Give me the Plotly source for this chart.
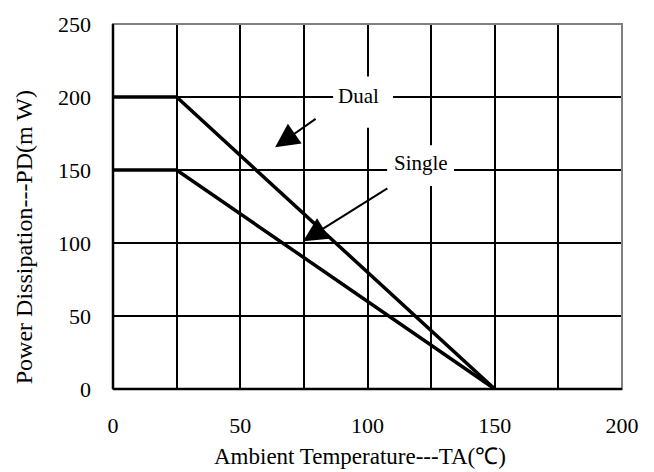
import plotly.graph_objects as go

# data
dual_x = [0, 25, 150]
dual_y = [200, 200, 0]
single_x = [0, 25, 150]
single_y = [150, 150, 0]
x_ticks = [0, 50, 100, 150, 200]
y_ticks = [0, 50, 100, 150, 200, 250]

FONT = "Liberation Serif"

fig = go.Figure()
for xs, ys in [(dual_x, dual_y), (single_x, single_y)]:
    fig.add_trace(go.Scatter(x=xs, y=ys, mode="lines",
                             line=dict(color="black", width=3.5),
                             showlegend=False, hoverinfo="skip"))

# white label boxes over the grid
fig.add_shape(type="rect", x0=86.5, x1=110, y0=179, y1=214, xref="x", yref="y",
              fillcolor="white", line=dict(width=0), layer="between")
fig.add_shape(type="rect", x0=107.7, x1=134, y0=139, y1=167, xref="x", yref="y",
              fillcolor="white", line=dict(width=0), layer="between")

fig.add_annotation(x=96.5, y=201, text="Dual", showarrow=False,
                   font=dict(family=FONT, size=21, color="black"))
fig.add_annotation(x=121, y=155, text="Single", showarrow=False,
                   font=dict(family=FONT, size=21, color="black"))
# arrows
fig.add_annotation(x=63.7, y=165.5, ax=80.2, ay=185.7, axref="x", ayref="y",
                   xref="x", yref="y", text="", showarrow=True,
                   arrowhead=2, arrowsize=2.4, arrowwidth=2, arrowcolor="black")
fig.add_annotation(x=74.7, y=101.2, ax=108.4, ay=138.1, axref="x", ayref="y",
                   xref="x", yref="y", text="", showarrow=True,
                   arrowhead=2, arrowsize=2.4, arrowwidth=2, arrowcolor="black")

# axis titles
fig.add_annotation(x=0.485, y=-0.185, xref="paper", yref="paper",
                   text="Ambient Temperature---TA(℃)", showarrow=False,
                   xanchor="center", yanchor="middle",
                   font=dict(family=FONT, size=23, color="black"))
fig.add_annotation(x=-0.175, y=0.4155, xref="paper", yref="paper",
                   text="Power Dissipation---PD(m W)", showarrow=False,
                   textangle=-90, xanchor="center", yanchor="middle",
                   font=dict(family=FONT, size=24, color="black"))

axis_common = dict(showgrid=True, gridcolor="black", gridwidth=1.5,
                   zeroline=False, ticks="", showline=False,
                   tickfont=dict(family=FONT, size=22, color="black"))

fig.update_xaxes(range=[0, 200], tickvals=x_ticks,
                 ticklabelstandoff=21,
                 minor=dict(tickvals=[25, 75, 125, 175], showgrid=True,
                            gridcolor="black", gridwidth=1.5),
                 **axis_common)
fig.update_yaxes(range=[0, 250], tickvals=y_ticks,
                 ticklabelstandoff=21,
                 **axis_common)

# frame: gray top/right, black left/bottom
fig.add_shape(type="rect", xref="paper", yref="paper", x0=0, x1=1, y0=0, y1=1,
              line=dict(color="#808080", width=2), layer="above")
fig.add_shape(type="line", xref="paper", yref="paper", x0=0, x1=0, y0=0, y1=1,
              line=dict(color="black", width=2.5), layer="above")
fig.add_shape(type="line", xref="paper", yref="paper", x0=0, x1=1, y0=0, y1=0,
              line=dict(color="black", width=2.5), layer="above")

fig.update_layout(width=654, height=472,
                  margin=dict(l=113, r=32, t=16, b=83),
                  plot_bgcolor="white", paper_bgcolor="white",
                  font=dict(family=FONT, color="black"))

fig.write_html("out.html")
